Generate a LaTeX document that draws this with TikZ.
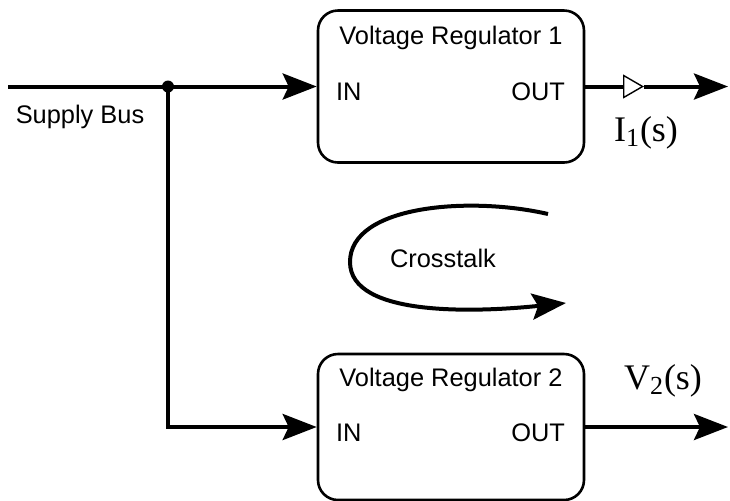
\documentclass[tikz,border=0pt]{standalone}
\usepackage{fontspec}
\setmainfont{Liberation Sans}
\newfontfamily\sigfont{Liberation Serif}
\usetikzlibrary{arrows.meta}
\tikzset{>={Stealth[length=17pt,width=13pt,inset=3pt]}}
\tikzset{regbox/.style={draw, line width=1.3pt, rounded corners=10pt, minimum width=133pt, minimum height=76pt},
    wire/.style={line width=2pt},
    sig/.style={font=\fontsize{18}{20}\sigfont}}
\newcommand{\sigsub}[1]{\mbox{\fontsize{13}{13}\sigfont #1}}

\begin{document}
\begin{tikzpicture}[x=0.5pt, y=-0.5pt, font=\fontsize{12.7}{15}\selectfont]
    \useasboundingbox (0,0) rectangle (730,500);
    % regulators
    \node[regbox] (reg1) at (451,86.5) {};
    \node[regbox, minimum height=73pt] (reg2) at (451,427) {};
    \node (title1) at (451,38) {Voltage Regulator 1};
    \node (title2) at (451,380) {Voltage Regulator 2};
    \node[anchor=west] (inlbl1) at (329,92) {IN};
    \node[anchor=east] (outlbl1) at (572,92) {OUT};
    \node[anchor=west] (inlbl2) at (329,433) {IN};
    \node[anchor=east] (outlbl2) at (572,433) {OUT};
    % supply bus
    \coordinate (busstart) at (8,86.5);
    \fill (168,86.5) circle (3pt) coordinate (tap);
    \node (bus) at (80,117) {Supply Bus};
    \draw[wire, ->] (busstart) -- (reg1.west);
    \draw[wire, ->] (tap) |- (reg2.west);
    % outputs
    \coordinate (mark1) at (644,86.5);
    \coordinate (end1) at (728,86.5);
    \coordinate (end2) at (728,427);
    \draw[wire, -{Triangle[open, length=10.5pt, width=12pt, line width=0.7pt]}] (reg1.east) -- (mark1);
    \draw[wire, ->] (mark1) -- (end1);
    \draw[wire, ->] (reg2.east) -- (end2);
    \node[sig] (i1) at (646,133) {I$_{\sigsub{1}}$(s)};
    \node[sig] (v2) at (663,381) {V$_{\sigsub{2}}$(s)};
    % crosstalk
    \node (xtalk) at (443,258) {Crosstalk};
    \coordinate (xstart) at (548,214);
    \coordinate (xend) at (566,303);
    \draw[wire, ->] (xstart) .. controls (470,196) and (350,205) .. (350,262)
        .. controls (350,318) and (480,312) .. (xend);
\end{tikzpicture}
\end{document}
